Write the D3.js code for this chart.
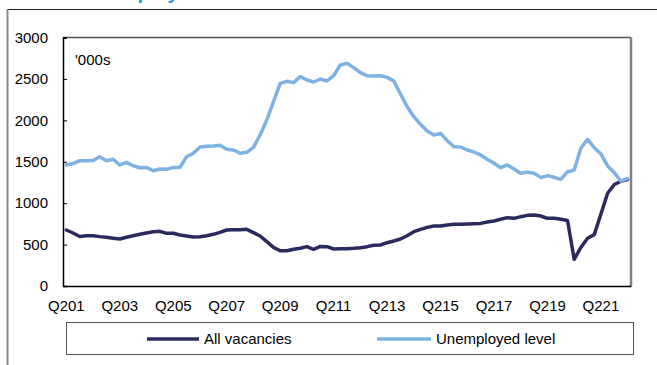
<!DOCTYPE html>
<html>
<head>
<meta charset="utf-8">
<script src="https://cdn.jsdelivr.net/npm/d3@7"></script>
<style>
  html, body { margin: 0; padding: 0; background: #ffffff; }
  svg { display: block; font-family: Arial, "Liberation Sans", sans-serif; }
</style>
</head>
<body>
<svg id="chart" width="657" height="365"></svg>
<script>
// ---- data ----
const titleText = "Unemployment and vacancies";
const unitLabel = "'000s";
const seriesNames = ["All vacancies", "Unemployed level"];
const tickLabels = ["Q201", "Q203", "Q205", "Q207", "Q209", "Q211", "Q213", "Q215", "Q217", "Q219", "Q221"];
const yTicks = [0, 500, 1000, 1500, 2000, 2500, 3000];

// quarterly categories, Q2 2001 .. Q2 2022
const categories = [];
for (let yr = 2001; yr <= 2022; yr++) {
  for (let q = 1; q <= 4; q++) {
    if ((yr === 2001 && q < 2) || (yr === 2022 && q > 2)) continue;
    categories.push("Q" + q + " " + yr);
  }
}

const vacancies = [
  676, 640, 598, 607, 606, 596, 588, 577, 567, 588,
  607, 624, 640, 656, 660, 636, 636, 616, 604, 592,
  595, 607, 624, 648, 676, 680, 680, 684, 644, 604,
  535, 467, 426, 426, 443, 455, 475, 443, 478, 475,
  447, 451, 451, 455, 463, 475, 491, 495, 523, 543,
  567, 607, 656, 684, 708, 724, 724, 736, 745, 745,
  748, 752, 756, 773, 785, 805, 825, 817, 837, 853,
  857, 845, 817, 817, 805, 790, 322, 465, 576, 620,
  870, 1119, 1225, 1265, 1285
];

const unemployed = [
  1461, 1478, 1513, 1513, 1515, 1561, 1513, 1530, 1461, 1493,
  1452, 1428, 1432, 1392, 1412, 1408, 1432, 1432, 1561, 1602,
  1678, 1686, 1690, 1698, 1650, 1642, 1602, 1614, 1674, 1823,
  2004, 2225, 2447, 2471, 2455, 2527, 2487, 2463, 2499, 2475,
  2540, 2668, 2688, 2636, 2575, 2539, 2535, 2539, 2519, 2475,
  2318, 2165, 2044, 1952, 1871, 1823, 1843, 1754, 1682, 1678,
  1642, 1618, 1582, 1530, 1481, 1428, 1461, 1412, 1361, 1373,
  1361, 1308, 1332, 1312, 1288, 1380, 1400, 1662, 1771, 1670,
  1594, 1449, 1368, 1265, 1295
];

const colors = ["#2b2a5e", "#7eb2e4"];

// ---- layout ----
const svg = d3.select("#chart");
const plot = { left: 63, right: 631, top: 37.5, bottom: 286 };

const x = d3.scaleBand().domain(categories).range([plot.left, plot.right]).padding(0);
const y = d3.scaleLinear().domain([0, 3000]).range([plot.bottom, plot.top]);
const cx = c => x(c) + x.bandwidth() / 2;

// clipped title at the very top
svg.append("text")
  .attr("x", 82).attr("y", -1)
  .attr("font-size", 20).attr("font-weight", "bold")
  .attr("fill", "#1b9ce2")
  .text(titleText);

// outer frame lines
svg.append("line").attr("x1", 7).attr("x2", 657).attr("y1", 9.5).attr("y2", 9.5)
  .attr("stroke", "#222").attr("stroke-width", 1);
svg.append("line").attr("x1", 7.5).attr("x2", 7.5).attr("y1", 9).attr("y2", 365)
  .attr("stroke", "#8a8a8a").attr("stroke-width", 2);

// plot frame (top / right)
svg.append("line").attr("x1", plot.left).attr("x2", plot.right).attr("y1", plot.top).attr("y2", plot.top)
  .attr("stroke", "#555").attr("stroke-width", 1.5);
svg.append("line").attr("x1", plot.right).attr("x2", plot.right).attr("y1", plot.top).attr("y2", plot.bottom)
  .attr("stroke", "#808080").attr("stroke-width", 2.5);

// y axis
const yAxis = svg.append("g")
  .attr("transform", `translate(${plot.left},0)`)
  .call(d3.axisLeft(y).tickValues(yTicks).tickSize(-4).tickPadding(15).tickFormat(d3.format("d")));
yAxis.select(".domain").attr("stroke", "#000").attr("stroke-width", 1.5);
yAxis.selectAll(".tick line").attr("stroke", "#000").attr("stroke-width", 1);
yAxis.selectAll("text").attr("font-size", 15).attr("fill", "#000")
  .attr("font-family", "Arial, 'Liberation Sans', sans-serif");

// x axis
const tickCats = categories.filter((c, i) => i % 8 === 0);
const xAxis = svg.append("g")
  .attr("transform", `translate(0,${plot.bottom})`)
  .call(d3.axisBottom(x).tickValues(tickCats).tickSize(0).tickPadding(14)
    .tickFormat(c => tickLabels[categories.indexOf(c) / 8]));
xAxis.select(".domain").attr("stroke", "#000").attr("stroke-width", 1.5);
xAxis.selectAll("text").attr("font-size", 15).attr("fill", "#000")
  .attr("font-family", "Arial, 'Liberation Sans', sans-serif");

// unit label
svg.append("text").attr("x", 75).attr("y", 65)
  .attr("font-size", 15).attr("fill", "#000").text(unitLabel);

// lines
const line = d3.line().x((d, i) => cx(categories[i])).y(d => y(d));
[vacancies, unemployed].forEach((s, k) => {
  svg.append("path")
    .datum(s)
    .attr("d", line)
    .attr("fill", "none")
    .attr("stroke", colors[k])
    .attr("stroke-width", 3.5)
    .attr("stroke-linejoin", "round")
    .attr("stroke-linecap", "round");
});

// legend
const lg = svg.append("g");
lg.append("rect").attr("x", 66.5).attr("y", 322.5).attr("width", 567).attr("height", 32)
  .attr("fill", "#fff").attr("stroke", "#555").attr("stroke-width", 1);
const legendItems = [
  { name: seriesNames[0], color: colors[0], x1: 147, x2: 199, tx: 204 },
  { name: seriesNames[1], color: colors[1], x1: 377, x2: 431, tx: 436 }
];
legendItems.forEach(it => {
  lg.append("line").attr("x1", it.x1).attr("x2", it.x2).attr("y1", 339).attr("y2", 339)
    .attr("stroke", it.color).attr("stroke-width", 3.5);
  lg.append("text").attr("x", it.tx).attr("y", 339).attr("dy", "0.35em")
    .attr("font-size", 15).attr("fill", "#000").text(it.name);
});
</script>
</body>
</html>
